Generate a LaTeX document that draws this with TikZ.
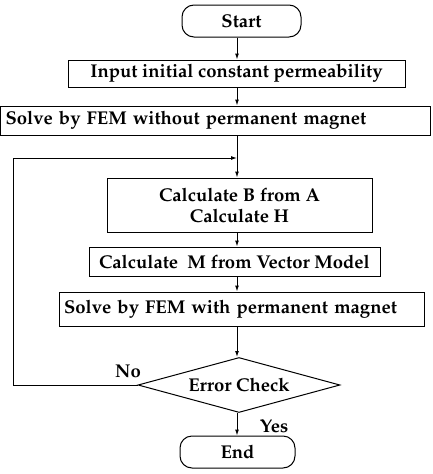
\documentclass[tikz,border=0pt]{standalone}
\usepackage[T1]{fontenc}
\usepackage{mathpazo}
\usetikzlibrary{positioning,arrows.meta,shapes.geometric}
\newcommand{\flowfont}{\fontsize{18.5}{21}\selectfont\bfseries}
\tikzset{
  term/.style={draw,line width=1pt,rounded corners=12pt,font=\flowfont,minimum height=32pt,inner sep=0pt},
  proc/.style={draw,line width=1pt,font=\flowfont,inner sep=0pt,align=center},
  lproc/.style={proc,align=left,inner xsep=5pt},
  dec/.style={diamond,aspect=3.7,draw,line width=1pt,font=\flowfont,inner sep=0pt},
  lab/.style={font=\flowfont},
  link/.style={line width=1pt},
  flow/.style={line width=1pt,-{Latex[length=6pt,width=4pt]}}
}
\begin{document}
\begin{tikzpicture}[x=1pt,y=-1pt]
  \useasboundingbox (0,0) rectangle (432,474);
  \coordinate (spine) at (237,0);
  \coordinate (back) at (13,0);
  \node[term,minimum width=119pt] (start) at (241.5,21) {Start};
  \node[proc,minimum width=337pt,minimum height=27pt] (input) at (236.5,73.5) {Input initial constant permeability};
  \node[lproc,text width=420pt,minimum height=29pt] (solvea) at (215.5,120.5) {Solve by FEM without permanent magnet};
  \coordinate (join) at (237,158);
  \node[proc,minimum width=265pt,minimum height=54pt] (calcb) at (239.5,205) {Calculate B from A\\Calculate H};
  \node[proc,minimum width=291pt,minimum height=29pt] (calcm) at (234.5,261.5) {Calculate\ \ M from Vector Model};
  \node[lproc,text width=355pt,minimum height=34pt] (solveb) at (241.5,309) {Solve by FEM with permanent magnet};
  \node[dec,minimum width=202pt,minimum height=55pt] (check) at (239,385) {Error Check};
  \node[term,minimum width=115pt] (stop) at (237.5,452) {End};
  \node[lab] (no) at (128,371) {No};
  \node[lab] (yes) at (274,426) {Yes};
  % main line
  \draw[flow] (start.south -| spine) -- (spine |- input.north);
  \draw[flow] (input.south -| spine) -- (spine |- solvea.north);
  \draw[link] (solvea.south -| spine) -- (join);
  \draw[flow] (join) -- (spine |- calcb.north);
  \draw[flow] (calcb.south -| spine) -- (spine |- calcm.north);
  \draw[flow] (calcm.south -| spine) -- (spine |- solveb.north);
  \draw[flow] (solveb.south -| spine) -- (spine |- check.north);
  \draw[flow] (check.south -| spine) -- (spine |- stop.north);
  % loop back
  \draw[flow] (check.west) -- (back |- check.west) -- (back |- join) -- (join);
\end{tikzpicture}
\end{document}
